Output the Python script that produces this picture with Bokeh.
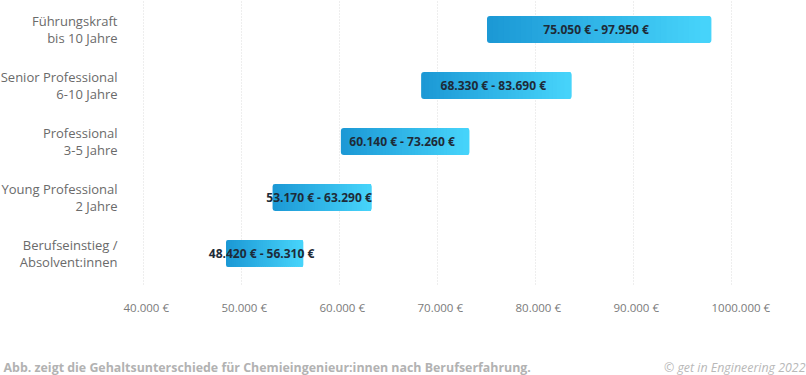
import numpy as np
from bokeh.plotting import figure
from bokeh.models import Range1d, Label, ColumnDataSource
from bokeh.core.properties import value
from bokeh.embed import file_html
from bokeh.resources import INLINE

# ---- data ----
categories = ["Berufseinstieg /\nAbsolvent:innen", "Young Professional\n2 Jahre",
              "Professional\n3-5 Jahre", "Senior Professional\n6-10 Jahre",
              "Führungskraft\nbis 10 Jahre"]
low = [48420, 53170, 60140, 68330, 75050]
high = [56310, 63290, 73260, 83690, 97950]
bar_labels = ["48.420 €  -  56.310 €", "53.170 €  -  63.290 €", "60.140 €  -  73.260 €",
              "68.330 €  -  83.690 €", "75.050 €  -  97.950 €"]
tick_values = [40000, 50000, 60000, 70000, 80000, 90000, 100000]
tick_labels = ["40.000 €", "50.000 €", "60.000 €", "70.000 €", "80.000 €", "90.000 €", "1000.000 €"]
footer_left = "Abb. zeigt die Gehaltsunterschiede für Chemieingenieur:innen nach Berufserfahrung."
footer_right = "© get in Engineering 2022"

# ---- layout (pixel helpers) ----
W, H = 806, 375
PX_PER_K = 9.8          # pixels per 1000 €
X0_PX = 143             # pixel of 40000 €
ROW_PX = 56             # pixels per category row
Y0_PX = 253             # pixel of first row centre (from top)

def dx(px):
    return 40000 + (px - X0_PX) / PX_PER_K * 1000

def dy(px):
    return (Y0_PX - px) / ROW_PX

p = figure(width=W, height=H, output_backend="svg", toolbar_location=None,
           x_range=Range1d(dx(0), dx(W)), y_range=Range1d(dy(H), dy(0)),
           min_border=0)
p.outline_line_color = None
p.background_fill_color = "white"
p.border_fill_color = "white"
p.axis.visible = False
p.grid.visible = False

# dotted vertical grid lines ending at the plot bottom
p.segment(x0=tick_values, x1=tick_values, y0=[dy(284)] * len(tick_values),
          y1=[dy(0)] * len(tick_values), line_color="#dcdcdc", line_dash="1 2", line_width=1)

# tick labels
tsrc = ColumnDataSource(dict(x=[v - 20 / PX_PER_K * 1000 for v in tick_values],
                             y=[dy(307)] * len(tick_values), t=tick_labels))
p.text(x="x", y="y", text="t", source=tsrc, text_font=value("Open Sans"),
       text_font_size="11.5px", text_color="#7a7a7a", text_align="left", text_baseline="middle")

# gradient bars built from overlapping slices
c0 = np.array([0x1b, 0x98, 0xd5])
c1 = np.array([0x48, 0xd5, 0xfb])
N = 40
bh = 0.48
ql, qr, qb, qt, qc = [], [], [], [], []
el, er, eb, et, ec = [], [], [], [], []
for i, (lo, hi) in enumerate(zip(low, high)):
    w = (hi - lo) / N
    for k in range(N):
        f = (k + 0.5) / N
        c = c0 + (c1 - c0) * f
        col = "#%02x%02x%02x" % tuple(int(round(v)) for v in c)
        if k == 0:
            el.append(lo); er.append(lo + 2 * w)
            eb.append(i - bh / 2); et.append(i + bh / 2); ec.append(col)
        if k == N - 1:
            el.append(hi - 2 * w); er.append(hi)
            eb.append(i - bh / 2); et.append(i + bh / 2); ec.append(col)
        left = lo + k * w + (w if k == 0 else 0)
        right = lo + (k + 1) * w
        if k == N - 1:
            right = hi - w
        else:
            right += 0.7 * w
        ql.append(left); qr.append(right)
        qb.append(i - bh / 2); qt.append(i + bh / 2); qc.append(col)

p.quad(left=el, right=er, bottom=eb, top=et, fill_color=ec, line_color=None, border_radius=3)
p.quad(left=ql, right=qr, bottom=qb, top=qt, fill_color=qc, line_color=None)

mid = [(a + b) / 2 for a, b in zip(low, high)]
src = ColumnDataSource(dict(x=mid, y=list(range(len(low))), t=bar_labels))
p.text(x="x", y="y", text="t", source=src, text_font=value("Open Sans"),
       text_font_style="bold", text_font_size="12px", text_color="#1e2b38",
       text_align="center", text_baseline="middle")

csrc = ColumnDataSource(dict(x=[dx(117)] * len(categories), y=list(range(len(categories))), t=categories))
p.text(x="x", y="y", text="t", source=csrc, text_font=value("Open Sans"),
       text_font_size="13px", text_color="#6a6a6a", text_align="right",
       text_baseline="middle", text_line_height=0.9)

p.add_layout(Label(x=3, y=H - 367, x_units="screen", y_units="screen", text=footer_left,
                   text_font="Open Sans", text_font_style="bold", text_font_size="12.4px",
                   text_color="#b2b2b2", text_baseline="middle"))
p.add_layout(Label(x=805, y=H - 367, x_units="screen", y_units="screen", text=footer_right,
                   text_font="Open Sans", text_font_style="italic", text_font_size="12.4px",
                   text_color="#b8b8b8", text_align="right", text_baseline="middle"))

open("out.html", "w").write(file_html(p, INLINE))
